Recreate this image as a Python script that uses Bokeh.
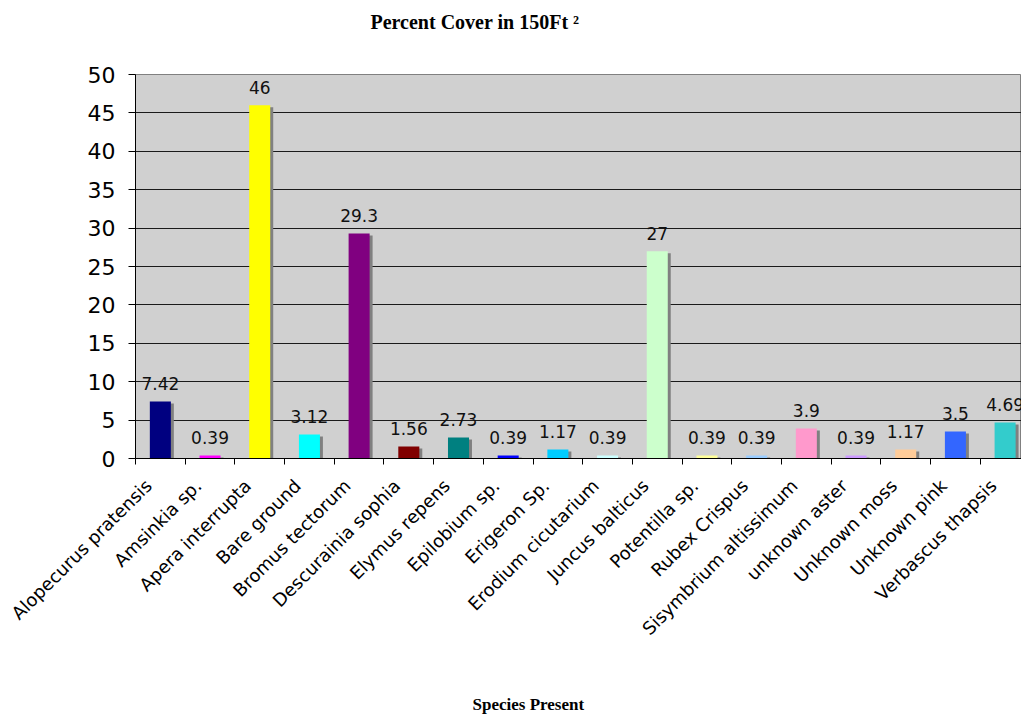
import numpy as np
from bokeh.plotting import figure
from bokeh.models import Range1d, FixedTicker, Title, ColumnDataSource, CustomJSTickFormatter
from bokeh.core.properties import value
from bokeh.embed import file_html
from bokeh.resources import INLINE

species = ["Alopecurus pratensis", "Amsinkia sp.", "Apera interrupta", "Bare ground",
           "Bromus tectorum", "Descurainia sophia", "Elymus repens", "Epilobium sp.",
           "Erigeron Sp.", "Erodium cicutarium", "Juncus balticus", "Potentilla sp.",
           "Rubex Crispus", "Sisymbrium altissimum", "unknown aster", "Unknown moss",
           "Unknown pink", "Verbascus thapsis"]
cover = [7.42, 0.39, 46, 3.12, 29.3, 1.56, 2.73, 0.39, 1.17, 0.39, 27, 0.39, 0.39,
         3.9, 0.39, 1.17, 3.5, 4.69]
colors = ["#000080", "#FF00FF", "#FFFF00", "#00FFFF", "#800080", "#800000", "#008080",
          "#0000FF", "#00CCFF", "#CCFFFF", "#CCFFCC", "#FFFF99", "#99CCFF", "#FF99CC",
          "#CC99FF", "#FFCC99", "#3366FF", "#33CCCC"]
y_ticks = [0, 5, 10, 15, 20, 25, 30, 35, 40, 45, 50]
title_text = "Percent Cover in 150Ft \u00b2"
x_title = "Species Present"

n = len(species)
centers = [i + 0.5 for i in range(n)]
label_pos = [c - 0.24 for c in centers]
labels = [f"{v:g}" for v in cover]
bar_w = 0.423
sh_dx = 0.06
sh_dy = 0.26

src = ColumnDataSource(dict(
    x=centers, top=cover, color=colors, label=labels,
    xs=[c + sh_dx for c in centers], stop=[max(v - sh_dy, 0) for v in cover]))

p = figure(width=1021, height=721, x_range=Range1d(0, 17.83), y_range=Range1d(0, 50),
           output_backend="svg", toolbar_location=None, title=None,
           min_border_left=135, min_border_right=0, min_border_top=74, min_border_bottom=263,
           background_fill_color="#d0d0d0", border_fill_color="white",
           outline_line_color="#808080", outline_line_width=1)

# spacer (nearest the frame) then the title above it
p.add_layout(Title(text=" ", standoff=18, text_font_size="10px", text_color="white"), "above")
p.add_layout(Title(text=title_text, align="left", offset=235, standoff=18,
                   vertical_align="top", text_font="Liberation Serif",
                   text_font_style="bold", text_font_size="20px", text_color="black"),
             "above")

# y axis
p.yaxis.ticker = FixedTicker(ticks=y_ticks)
p.yaxis.major_label_text_font = "DejaVu Sans"
p.yaxis.major_label_text_font_size = "22px"
p.yaxis.major_label_text_color = "black"
p.yaxis.major_tick_out = 7
p.yaxis.major_tick_in = 0
p.yaxis.minor_tick_line_color = None
p.yaxis.axis_line_color = "black"
p.yaxis.major_tick_line_color = "black"
p.yaxis.major_label_standoff = 13

# x axis
p.xaxis.ticker = FixedTicker(ticks=label_pos, minor_ticks=list(range(n + 1)))
p.xaxis.formatter = CustomJSTickFormatter(args=dict(names=species),
                                          code="return names[Math.round(tick)];")
p.xaxis.major_tick_line_color = None
p.xaxis.major_tick_out = 0
p.xaxis.major_tick_in = 0
p.xaxis.minor_tick_out = 6
p.xaxis.minor_tick_in = 0
p.xaxis.minor_tick_line_color = "black"
p.xaxis.axis_line_color = "black"
p.xaxis.major_label_orientation = np.pi / 4
p.xaxis.major_label_text_font = "DejaVu Sans"
p.xaxis.major_label_text_font_size = "18px"
p.xaxis.major_label_text_color = "black"
p.xaxis.major_label_standoff = 18

p.xgrid.visible = False
p.ygrid.ticker = FixedTicker(ticks=y_ticks[1:-1])
p.ygrid.grid_line_color = "#1a1a1a"
p.ygrid.grid_line_width = 1

p.vbar(x="xs", top="stop", bottom=0, width=bar_w, source=src,
       fill_color="#808080", line_color=None)
p.vbar(x="x", top="top", bottom=0, width=bar_w, source=src,
       fill_color="color", line_color=None)
p.text(x="x", y="top", text="label", source=src, text_align="center",
       text_baseline="alphabetic", y_offset=-18, text_font=value("DejaVu Sans"),
       text_font_size="17px", text_color="#111111")

# spacer below the axis, then the axis title
p.add_layout(Title(text=" ", standoff=25, text_font_size="10px", text_color="white"), "below")
p.add_layout(Title(text=x_title, align="left", offset=337, standoff=10,
                   vertical_align="bottom", text_font="Liberation Serif",
                   text_font_style="bold", text_font_size="17px", text_color="black"),
             "below")

open("out.html", "w").write(file_html(p, INLINE))
